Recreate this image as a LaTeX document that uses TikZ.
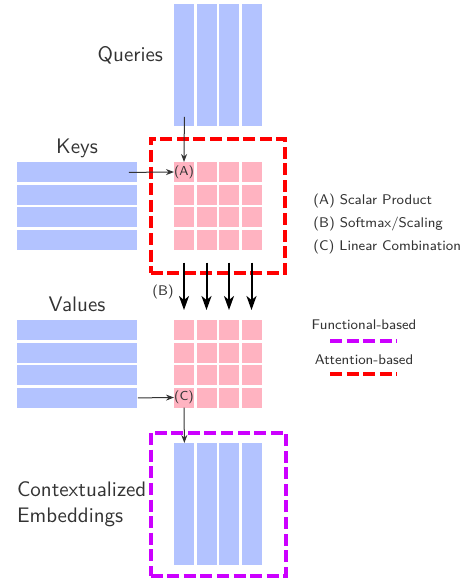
\documentclass[tikz,border=0pt]{standalone}
\usepackage{xcolor}
\usetikzlibrary{matrix,fit,arrows.meta}

\definecolor{vecblue}{RGB}{179,195,255}
\definecolor{scorepink}{RGB}{255,179,193}
\definecolor{attred}{RGB}{255,0,0}
\definecolor{funcviolet}{RGB}{204,0,255}
\definecolor{txtgray}{RGB}{51,51,51}

\tikzset{
    vec/.style={fill=vecblue, inner sep=0pt, draw=none},
    cell/.style={fill=scorepink, inner sep=0pt, outer sep=0pt, minimum size=10pt, anchor=center, font=\sffamily\fontsize{6.5}{7.5}\selectfont, text=txtgray},
    lbl/.style={font=\sffamily\fontsize{10.5}{13}\selectfont, text=txtgray},
    small/.style={font=\sffamily\fontsize{7}{8.5}\selectfont, text=txtgray},
    thin arrow/.style={draw=txtgray, line width=0.5pt, -{Stealth[length=4pt,width=3pt]}},
    thick arrow/.style={draw=black, line width=1pt, -{Stealth[length=7pt,width=5pt,inset=2pt]}},
    attbox/.style={draw=attred, line width=2pt, dash pattern=on 6pt off 2.3pt},
    funcbox/.style={draw=funcviolet, line width=2pt, dash pattern=on 6pt off 2.3pt},
}

\begin{document}
\begin{tikzpicture}[x=0.5pt,y=-0.5pt]
    \useasboundingbox (0,0) rectangle (461,579);

    % queries, keys, values
    \foreach \i in {1,...,4} {
        \node[vec, anchor=north west, minimum width=10pt, minimum height=61pt] (q\i) at ({174+(\i-1)*22.5},4) {};
        \node[vec, anchor=north west, minimum width=60pt, minimum height=10pt] (k\i) at (17,{162+(\i-1)*22.5}) {};
        \node[vec, anchor=north west, minimum width=60pt, minimum height=10pt] (v\i) at (17,{320+(\i-1)*22.5}) {};
        \node[vec, anchor=north west, minimum width=10pt, minimum height=61pt] (c\i) at ({174+(\i-1)*22.5},443) {};
    }

    % score grids
    \matrix (att) [matrix of nodes, nodes in empty cells, nodes={cell},
        inner sep=0pt, outer sep=0pt, column sep=1.25pt, row sep=1.25pt,
        anchor=north west] at (174,162)
        {
            (A) & & & \\
            & & & \\
            & & & \\
            & & & \\
        };
    \matrix (wgt) [matrix of nodes, nodes in empty cells, nodes={cell},
        inner sep=0pt, outer sep=0pt, column sep=1.25pt, row sep=1.25pt,
        anchor=north west] at (174,320)
        {
            & & & \\
            & & & \\
            & & & \\
            (C) & & & \\
        };

    \node[attbox, fit=(att-1-1)(att-4-4), inner sep=11.75pt] (attfit) {};
    \node[funcbox, fit=(c1)(c4), inner xsep=11.75pt, inner ysep=5.25pt] (funcfit) {};

    % labels
    \node[lbl, anchor=east] (qlbl) at (170,55) {Queries};
    \node[lbl] (klbl) at (77,148) {Keys};
    \node[lbl] (vlbl) at (77,304) {Values};
    \node[lbl, anchor=west, align=left] (clbl) at (10,504) {Contextualized\\Embeddings};
    \node[small] (blbl) at (163,292) {(B)};

    % connectors
    \draw[thin arrow] ([yshift=5pt]q1.south) -- (att-1-1.north);
    \draw[thin arrow] ([xshift=-4.5pt]k1.east) -- (att-1-1.west);
    \draw[thin arrow] (v4.east) -- (wgt-4-1.west);
    \draw[thin arrow] (wgt-4-1.south) -- (c1.north);
    \foreach \j in {1,...,4}
        \draw[thick arrow] ([yshift=-6.5pt]att-4-\j.south) -- ([yshift=5pt]wgt-1-\j.north);

    % legend
    \node[small, anchor=west, inner xsep=0pt] (lega) at (313,201) {(A) Scalar Product};
    \node[small, anchor=west, inner xsep=0pt] (legb) at (313,224) {(B) Softmax/Scaling};
    \node[small, anchor=west, inner xsep=0pt] (legc) at (313,247) {(C) Linear Combination};
    \node[small] (legf) at (364,325) {Functional-based};
    \node[small] (lega2) at (364,360) {Attention-based};
    \coordinate (fl) at (330,341);
    \coordinate (fr) at (397,341);
    \coordinate (al) at (330,374);
    \coordinate (ar) at (397,374);
    \draw[funcbox] (fl) -- (fr);
    \draw[attbox] (al) -- (ar);
\end{tikzpicture}
\end{document}
